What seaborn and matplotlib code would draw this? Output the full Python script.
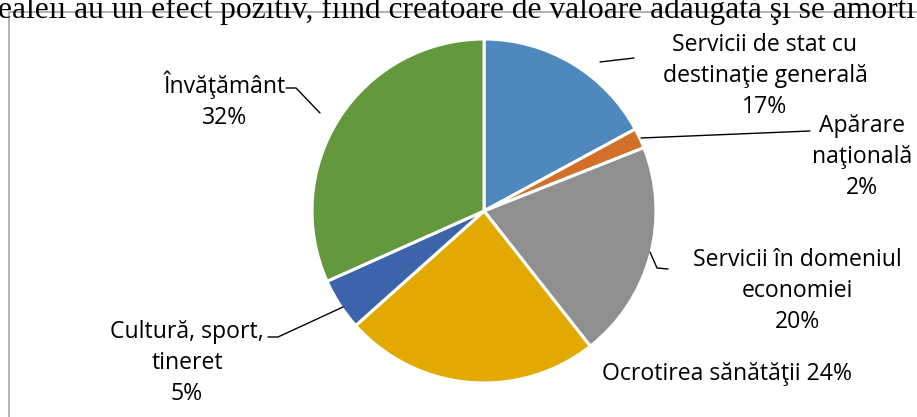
import matplotlib
matplotlib.use("Agg")
import matplotlib.pyplot as plt
import seaborn as sns

# data
categories = ["Servicii de stat cu\ndestinaţie generală", "Apărare\nnaţională",
              "Servicii în domeniul\neconomiei", "Ocrotirea sănătăţii",
              "Cultură, sport,\ntineret", "Învăţământ"]
shares = [17.1, 1.9, 20.4, 24.0, 4.9, 31.7]
colors = ["#4F88BC", "#D2702A", "#8F8F8F", "#E2AA00", "#3C64AA", "#64983F"]
top_text = "ealeii au un efect pozitiv, fiind creatoare de valoare adăugată şi se amorti"

sns.set_theme(style="white")
plt.rcParams["font.family"] = ["Open Sans", "DejaVu Sans"]

W, H = 917, 417
fig = plt.figure(figsize=(W / 100, H / 100), dpi=100)
ax = fig.add_axes([0, 0, 1, 1])

cx, cy, r = 484, H - 211, 172
wedges, _ = ax.pie(shares, colors=sns.color_palette(colors), startangle=90,
                   counterclock=False, center=(cx, cy), radius=r,
                   wedgeprops=dict(edgecolor="white", linewidth=2.2))
ax.set_xlim(0, W)
ax.set_ylim(0, H)
ax.set_aspect("equal")
ax.axis("off")

# chart border
ax.plot([9, 9, W + 5], [-5, H - 12, H - 12], color="#A6A6A6", lw=1.2, clip_on=False)

# text of the page above the chart, cut by the image edge
ax.text(-2, H - 18, top_text, family="Liberation Serif", fontsize=22.7,
        ha="left", va="baseline", color="black")

pct = [f"{round(v)}%" for v in shares]
fs = 16.6
# label text positions (pixel coords, y from top)
lab = [
    (765, 76, categories[0] + "\n" + pct[0]),
    (862, 157, categories[1] + "\n" + pct[1]),
    (797, 291, categories[2] + "\n" + pct[2]),
    (727, 374, categories[3] + " " + pct[3]),
    (187, 363, categories[4] + "\n" + pct[4]),
    (225, 100, categories[5] + "\n" + pct[5]),
]
for x, y, t in lab:
    ax.text(x, H - y, t, fontsize=fs, ha="center", va="center", linespacing=1.4,
            color="black")

leaders = [
    ([600, 634], [62, 58]),
    ([641, 810], [138, 131]),
    ([650, 657, 668], [252, 268, 269]),
    ([268, 278, 343], [337, 337, 307]),
    ([286, 296, 320], [88, 88, 113]),
]
for xs, ys in leaders:
    ax.plot(xs, [H - v for v in ys], color="black", lw=1)

fig.savefig("out.png", dpi=100)
